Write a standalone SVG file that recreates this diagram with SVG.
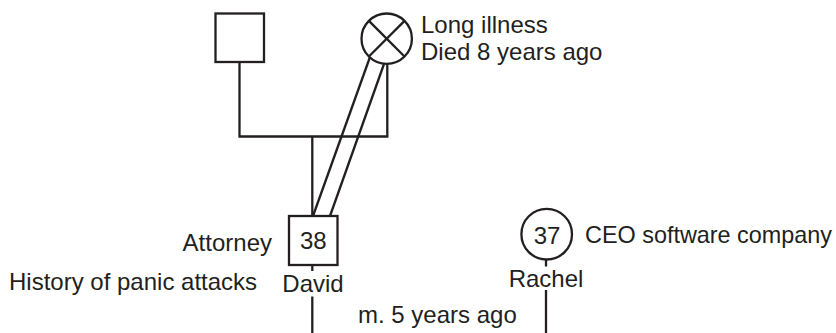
<svg xmlns="http://www.w3.org/2000/svg" width="836" height="333" viewBox="0 0 836 333">
  <style>
    .shape { fill: #ffffff; stroke: #231f20; stroke-width: 2.3; }
    .line { fill: none; stroke: #231f20; stroke-width: 2.3; }
    text { font-family: "Liberation Sans", Arial, sans-serif; font-size: 24px; fill: #231f20; }
    .mid { text-anchor: middle; }
    .end { text-anchor: end; }
  </style>
  <rect width="836" height="333" fill="#ffffff"/>

  <!-- connectors: parents' union, child line, close-relationship lines, marriage lines -->
  <g id="connectors">
    <polyline class="line" points="239.5,62 239.5,136.5 387.3,136.5 387.3,64"/>
    <line class="line" x1="312.3" y1="136.5" x2="312.3" y2="216"/>
    <line class="line" x1="370" y1="57" x2="313" y2="216"/>
    <line class="line" x1="384" y1="64" x2="330" y2="216"/>
    <line class="line" x1="312.3" y1="265" x2="312.3" y2="271"/>
    <line class="line" x1="312.3" y1="296.5" x2="312.3" y2="333"/>
    <line class="line" x1="546" y1="259.5" x2="546" y2="266.5"/>
    <line class="line" x1="546" y1="290" x2="546" y2="333"/>
  </g>

  <!-- father -->
  <g id="father">
    <rect class="shape" x="215.5" y="13.5" width="48.5" height="48.5"/>
  </g>

  <!-- mother (deceased) -->
  <g id="mother">
    <circle class="shape" cx="386.7" cy="38.7" r="25.2"/>
    <line class="line" x1="368.9" y1="20.9" x2="404.5" y2="56.5"/>
    <line class="line" x1="404.5" y1="20.9" x2="368.9" y2="56.5"/>
    <text x="421" y="33">Long illness</text>
    <text x="421" y="60">Died 8 years ago</text>
  </g>

  <!-- David -->
  <g id="david">
    <rect class="shape" x="289" y="216" width="48.5" height="49"/>
    <text class="mid" x="313.3" y="249">38</text>
    <text class="mid" x="313" y="291.5">David</text>
    <text class="end" x="272" y="251">Attorney</text>
    <text x="9" y="290">History of panic attacks</text>
  </g>

  <!-- Rachel -->
  <g id="rachel">
    <circle class="shape" cx="546.7" cy="234.2" r="25.3"/>
    <text class="mid" x="547" y="243.5">37</text>
    <text class="mid" x="546" y="286.5">Rachel</text>
    <text x="585" y="243" style="font-size:23.4px">CEO software company</text>
  </g>

  <!-- marriage label -->
  <g id="marriage">
    <text x="358" y="323">m. 5 years ago</text>
  </g>
</svg>
